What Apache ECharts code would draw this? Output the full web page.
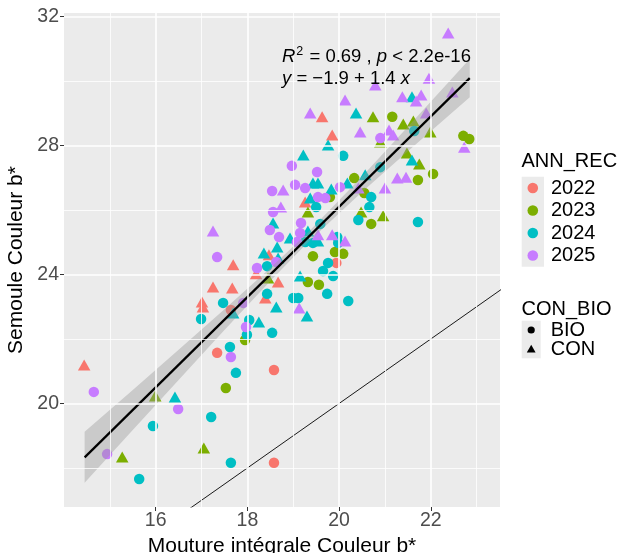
<!DOCTYPE html>
<html><head><meta charset="utf-8">
<script src="https://cdn.jsdelivr.net/npm/echarts@6/dist/echarts.min.js"></script>
<style>html,body{margin:0;padding:0;background:#fff}#c{width:622px;height:553px}</style>
</head><body><div id="c"></div>
<script>
// ---- data ----
const years = ['2022', '2023', '2024', '2025'];
const yearColors = ['#F8766D', '#7CAE00', '#00BFC4', '#C77CFF'];
const typeNames = ['BIO', 'CON'];
const xTicks = [16, 18, 20, 22];
const yTicks = [20, 24, 28, 32];
const xMinor = [15, 17, 19, 21, 23];
const yMinor = [18, 22, 26, 30];

const bio2022 = [[17.34,21.57],[18.58,21.04],[18.58,18.16],[19.94,24.36],[17.64,22.90]];
const con2022 = [[14.44,21.19],[17.25,23.61],[17.67,23.58],[17.69,24.30],[18.19,24.02],[18.47,24.61],[18.67,23.77],[18.39,23.27],[17.01,23.15],[17.03,22.99],[19.63,28.89],[19.85,28.33],[19.26,26.25]];
const bio2023 = [[17.53,20.48],[17.95,21.97],[19.43,24.57],[19.91,24.70],[20.09,24.64],[19.32,23.77],[19.56,23.68],[19.80,26.40],[20.33,26.99],[20.55,26.53],[20.70,25.57],[21.16,28.89],[22.71,28.30],[22.84,28.20],[22.05,27.12],[21.72,26.93]];
const con2023 = [[15.27,18.34],[15.99,20.23],[17.05,18.62],[18.45,23.89],[19.32,25.94],[20.48,25.94],[20.96,25.82],[20.74,28.89],[21.40,28.67],[21.62,28.76],[20.90,28.11],[21.99,28.42],[21.48,27.77],[21.75,27.43]];
const bio2024 = [[15.64,17.66],[15.94,19.30],[17.21,19.58],[17.64,18.16],[17.75,20.95],[17.62,21.75],[17.99,22.13],[18.04,22.59],[16.99,22.62],[17.47,23.12],[18.43,24.26],[18.43,23.40],[18.54,22.19],[19.00,23.27],[19.11,23.27],[19.74,23.40],[20.20,23.18],[19.65,24.11],[19.87,23.95],[19.76,24.36],[20.09,27.68],[19.50,26.09],[19.59,25.57],[19.96,25.16],[19.98,24.98],[19.26,25.01],[19.43,24.98],[20.42,25.69],[20.66,26.09],[20.70,26.40],[20.90,27.33],[21.64,28.45],[21.72,25.63]];
const con2024 = [[16.42,20.20],[17.69,22.81],[18.25,22.53],[18.63,22.99],[19.15,23.95],[19.30,22.71],[18.36,24.67],[18.65,24.85],[18.67,24.51],[18.56,25.60],[18.93,25.13],[19.54,25.04],[19.32,25.35],[19.22,27.71],[19.76,28.02],[20.37,29.01],[21.59,29.51],[21.59,27.55],[19.37,26.37],[19.43,26.84],[19.54,26.84],[19.83,26.65],[20.18,26.84],[20.57,27.09]];
const bio2025 = [[14.65,20.36],[14.94,18.43],[16.49,19.83],[17.64,21.44],[17.97,22.37],[17.91,23.12],[17.34,24.54],[18.21,24.20],[18.63,24.39],[18.56,25.94],[18.49,25.38],[18.69,25.16],[19.17,25.60],[19.15,25.29],[19.08,25.01],[18.97,27.37],[19.52,27.18],[19.04,26.78],[19.26,26.68],[18.54,26.59],[20.02,26.71],[19.54,26.40],[19.70,26.37],[20.90,28.23]];
const con2025 = [[17.25,25.35],[18.73,26.09],[18.78,26.62],[19.13,22.96],[19.37,29.01],[20.13,29.41],[20.46,28.42],[20.79,29.88],[21.38,29.51],[21.79,29.57],[21.68,29.38],[21.96,30.09],[22.38,31.49],[22.47,29.66],[21.90,29.01],[22.73,27.95],[21.09,28.48],[21.18,28.33],[21.27,26.99],[21.46,27.02],[21.00,26.68],[20.42,26.68],[19.54,25.23],[19.85,25.23],[20.13,25.04]];

// regression line and confidence band
const fitX = [14.45, 22.85];
const fitY = [18.33, 30.09];
const bandX = [14.45, 15.5, 16.5, 17.5, 18.5, 19.3, 20.5, 21.5, 22.85];
const bandLower = [17.54, 19.18, 20.73, 22.28, 23.80, 24.97, 26.56, 27.82, 29.50];
const bandUpper = [19.12, 20.42, 21.67, 22.92, 24.20, 25.27, 27.04, 28.58, 30.68];
// identity reference line y = x
const refX = [14, 24];
const refY = [14, 24];

const groups = [
  {bio: bio2022, con: con2022},
  {bio: bio2023, con: con2023},
  {bio: bio2024, con: con2024},
  {bio: bio2025, con: con2025}
];

// ---- chart ----
const FONT = '"Liberation Sans", Arial, sans-serif';
const chart = echarts.init(document.getElementById('c'), null, {renderer: 'canvas'});

const gridMarks = [];
xTicks.forEach(v => gridMarks.push({xAxis: v, lineStyle: {width: 1.6}}));
xMinor.forEach(v => gridMarks.push({xAxis: v, lineStyle: {width: 0.8}}));
yTicks.forEach(v => gridMarks.push({yAxis: v, lineStyle: {width: 1.6}}));
yMinor.forEach(v => gridMarks.push({yAxis: v, lineStyle: {width: 0.8}}));

const series = [{
  type: 'scatter', name: '_grid', data: [], z: 1, silent: true,
  markLine: {
    silent: true, symbol: ['none', 'none'], label: {show: false},
    lineStyle: {color: '#FFFFFF', type: 'solid', opacity: 1},
    emphasis: {disabled: true},
    data: gridMarks
  }
}];

groups.forEach((g, i) => {
  series.push({
    type: 'scatter', name: years[i], data: g.bio, symbol: 'circle', symbolSize: 10.5,
    itemStyle: {color: yearColors[i], opacity: 1}, z: 2, silent: true
  });
  series.push({
    type: 'scatter', name: years[i], data: g.con, symbol: 'triangle', symbolSize: [12.5, 11],
    itemStyle: {color: yearColors[i], opacity: 1}, z: 2, silent: true
  });
});

series.push({
  type: 'custom', name: '_band', z: 3, silent: true,
  data: [[bandX[0], bandLower[0]]],
  renderItem: function (params, api) {
    const pts = [];
    for (let i = 0; i < bandX.length; i++) pts.push(api.coord([bandX[i], bandUpper[i]]));
    for (let i = bandX.length - 1; i >= 0; i--) pts.push(api.coord([bandX[i], bandLower[i]]));
    return {type: 'polygon', shape: {points: pts}, style: {fill: 'rgba(153,153,153,0.4)'}};
  }
});

series.push({
  type: 'line', name: '_fit', z: 4, silent: true, symbol: 'none',
  data: fitX.map((x, i) => [x, fitY[i]]),
  lineStyle: {color: '#000', width: 2.2}
});
series.push({
  type: 'line', name: '_ref', z: 4, silent: true, symbol: 'none', clip: true,
  data: refX.map((x, i) => [x, refY[i]]),
  lineStyle: {color: '#000', width: 0.9}
});

// ---- legend (drawn as graphic elements) ----
const legendEls = [
  {type: 'rect', left: 521.7, top: 176.7, shape: {width: 22.3, height: 90}, style: {fill: '#EBEBEB'}, silent: true},
  {type: 'rect', left: 521.7, top: 320.7, shape: {width: 19, height: 37.6}, style: {fill: '#EBEBEB'}, silent: true},
  {type: 'text', x: 521.5, y: 161.5, silent: true,
   style: {text: 'ANN_REC', fontSize: 20, fill: '#000', fontFamily: FONT, verticalAlign: 'middle', align: 'left'}},
  {type: 'text', x: 521.5, y: 309, silent: true,
   style: {text: 'CON_BIO', fontSize: 20, fill: '#000', fontFamily: FONT, verticalAlign: 'middle', align: 'left'}}
];
years.forEach((y, i) => {
  const cy = 188 + 22.5 * i;
  legendEls.push({type: 'circle', shape: {cx: 532.8, cy: cy, r: 5.3}, style: {fill: yearColors[i]}, silent: true});
  legendEls.push({type: 'text', x: 551, y: cy, silent: true,
    style: {text: y, fontSize: 20, fill: '#000', fontFamily: FONT, verticalAlign: 'middle', align: 'left'}});
});
typeNames.forEach((t, i) => {
  const cy = 330 + 19.3 * i;
  if (i === 0) {
    legendEls.push({type: 'circle', shape: {cx: 531.2, cy: cy, r: 3.6}, style: {fill: '#000'}, silent: true});
  } else {
    legendEls.push({type: 'polygon', shape: {points: [[531.2, cy - 4.6], [535.6, cy + 3.2], [526.8, cy + 3.2]]}, style: {fill: '#000'}, silent: true});
  }
  legendEls.push({type: 'text', x: 550.7, y: cy, silent: true,
    style: {text: t, fontSize: 20, fill: '#000', fontFamily: FONT, verticalAlign: 'middle', align: 'left'}});
});

const option = {
  animation: false,
  backgroundColor: '#FFFFFF',
  textStyle: {fontFamily: FONT},
  grid: {left: 64, top: 13, width: 436, height: 494, show: true, backgroundColor: '#EBEBEB',
         borderWidth: 0, containLabel: false, outerBoundsMode: 'none'},
  xAxis: {
    type: 'value', min: 14, max: 23.51,
    axisLine: {show: false},
    axisTick: {show: true, length: 4, customValues: xTicks, lineStyle: {color: '#333333', width: 1}},
    axisLabel: {show: true, customValues: xTicks, margin: 4, color: '#4D4D4D', fontSize: 19.5, fontFamily: FONT},
    splitLine: {show: false},
    name: 'Mouture intégrale Couleur b*', nameLocation: 'middle', nameGap: 25,
    nameTextStyle: {color: '#000', fontSize: 21, fontFamily: FONT}
  },
  yAxis: {
    type: 'value', min: 16.79, max: 32.11,
    axisLine: {show: false},
    axisTick: {show: true, length: 4, customValues: yTicks, lineStyle: {color: '#333333', width: 1}},
    axisLabel: {show: true, customValues: yTicks, margin: 5, color: '#4D4D4D', fontSize: 19.5, fontFamily: FONT},
    splitLine: {show: false},
    name: 'Semoule Couleur b*', nameLocation: 'middle', nameGap: 33,
    nameTextStyle: {color: '#000', fontSize: 21, fontFamily: FONT}
  },
  graphic: legendEls.concat([
    {type: 'text', x: 282, y: 56.5, z: 10, silent: true,
     style: {
       text: '{i|R}{sup|2}{n| = 0.69 , }{i|p}{n| < 2.2e-16}',
       verticalAlign: 'middle', align: 'left', fill: '#000',
       rich: {
         i: {fontStyle: 'italic', fontSize: 18.5, fontFamily: FONT, fill: '#000'},
         n: {fontSize: 18.5, fontFamily: FONT, fill: '#000'},
         sup: {fontSize: 12.5, fontFamily: FONT, fill: '#000', padding: [0, 1, 10, 1]}
       }
     }},
    {type: 'text', x: 282, y: 78.5, z: 10, silent: true,
     style: {
       text: '{i|y}{n| = \u22121.9 + 1.4 }{i|x}',
       verticalAlign: 'middle', align: 'left', fill: '#000',
       rich: {
         i: {fontStyle: 'italic', fontSize: 18.5, fontFamily: FONT, fill: '#000'},
         n: {fontSize: 18.5, fontFamily: FONT, fill: '#000'}
       }
     }}
  ]),
  series: series
};
chart.setOption(option);
</script>
</body></html>
